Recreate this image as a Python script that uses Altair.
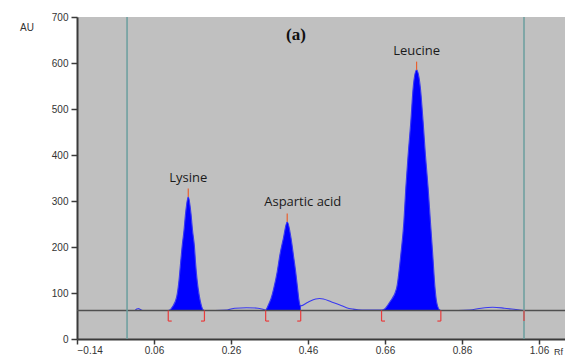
import altair as alt
import pandas as pd

# ---- trace (Rf, AU) ----
trace_rf = [-0.072, -0.04, -0.01, 0.01, 0.015, 0.02, 0.025, 0.03, 0.06, 0.09, 0.097,
            0.101, 0.108, 0.119, 0.125, 0.129, 0.133, 0.138, 0.142, 0.149, 0.156, 0.160,
            0.165, 0.168, 0.172, 0.178, 0.184, 0.188, 0.191,
            0.22, 0.25, 0.27, 0.30, 0.33, 0.345,
            0.350, 0.357, 0.364, 0.371, 0.380, 0.387, 0.396, 0.406, 0.416, 0.422,
            0.428, 0.433, 0.436, 0.439, 0.441,
            0.46, 0.48, 0.49, 0.50, 0.52, 0.543, 0.56, 0.577, 0.60, 0.63, 0.651,
            0.660, 0.673, 0.690, 0.701, 0.709, 0.714, 0.720, 0.727, 0.733, 0.742,
            0.752, 0.759, 0.765, 0.772, 0.778, 0.784, 0.790, 0.794, 0.802, 0.805,
            0.85, 0.88, 0.91, 0.94, 0.97, 1.00, 1.021]
trace_au = [62, 62, 62, 62, 65, 66, 64, 62, 62, 62, 62,
            63, 70, 92, 128, 165, 201, 237, 273, 309, 273, 237,
            201, 165, 128, 92, 70, 63, 62,
            62, 63, 67, 68, 67, 64,
            63, 74, 88, 110, 146, 183, 219, 255, 219, 183,
            146, 110, 88, 74, 72,
            80, 87, 88, 87, 81, 74, 68, 65, 63, 63, 63,
            66, 81, 110, 183, 255, 328, 400, 472, 545, 585,
            545, 472, 400, 328, 255, 183, 110, 81, 63, 62,
            62, 63, 67, 69, 67, 64, 62]

baseline_au = 62

# integrated peaks
peak_names = ["Lysine", "Aspartic acid", "Leucine"]
peak_rf = [0.149, 0.406, 0.742]
peak_au = [309, 255, 585]
peak_start = [0.097, 0.350, 0.651]
peak_end = [0.191, 0.441, 0.805]

# front / start markers
marker_rf = [-0.01, 1.021]

# axis ticks
x_ticks = [-0.14, 0.06, 0.26, 0.46, 0.66, 0.86, 1.06]
y_ticks = [0, 100, 200, 300, 400, 500, 600, 700]

X_DOMAIN = [-0.14, 1.1275]
W, H = 488, 322

trace = pd.DataFrame({"rf": trace_rf, "au": trace_au})

rows = []
for name, s, e in zip(peak_names, peak_start, peak_end):
    seg = trace[(trace.rf >= s) & (trace.rf <= e)].copy()
    seg["peak"] = name
    rows.append(seg)
fill_df = pd.concat(rows)
fill_df["base"] = baseline_au

xs = alt.Scale(domain=X_DOMAIN, nice=False, zero=False)
ys = alt.Scale(domain=[0, 700], nice=False)

X = alt.X("rf:Q", scale=xs,
          axis=alt.Axis(values=x_ticks, format=".2f", title=None, grid=False,
                        domainColor="#3a3a3a", domainWidth=2, tickColor="#3a3a3a",
                        tickSize=5, tickWidth=1.5, labelFont="Liberation Sans",
                        labelFontSize=10, labelColor="#333333", labelPadding=1))
Y = alt.Y("au:Q", scale=ys,
          axis=alt.Axis(values=y_ticks, title=None, grid=False,
                        domainColor="#3a3a3a", domainWidth=2, tickColor="#3a3a3a",
                        tickSize=6, tickWidth=1.5, labelFont="Liberation Sans",
                        labelFontSize=10, labelColor="#333333", labelPadding=3))

area = alt.Chart(fill_df).mark_area(color="#0000ff", opacity=1, interpolate="monotone").encode(
    x=X, y=Y, y2="base:Q", detail="peak:N")

line = alt.Chart(trace).mark_line(color="#3a3af0", strokeWidth=1.1, interpolate="monotone").encode(
    x=alt.X("rf:Q", scale=xs), y=alt.Y("au:Q", scale=ys), order="rf:Q")

base_rule = alt.Chart(pd.DataFrame({"au": [baseline_au]})).mark_rule(
    color="#505050", strokeWidth=1.5).encode(y=alt.Y("au:Q", scale=ys))

marker_df = pd.DataFrame({"rf": marker_rf})
markers = alt.Chart(marker_df).mark_rule(color="#6a9e9e", strokeWidth=1.5).encode(
    x=alt.X("rf:Q", scale=xs))

# red bracket marks at integration limits
bottom_au = 39
stub = 0.009
br_v = pd.DataFrame({"rf": peak_start + peak_end + [marker_rf[1]],
                     "top": baseline_au, "bot": bottom_au})
br_h = pd.DataFrame({"rf": peak_start + peak_end,
                     "rf2": [s + stub for s in peak_start] + [e - stub for e in peak_end],
                     "au": bottom_au})
brackets_v = alt.Chart(br_v).mark_rule(color="#e83c3c", strokeWidth=1.2).encode(
    x=alt.X("rf:Q", scale=xs), y=alt.Y("top:Q", scale=ys), y2="bot:Q")
brackets_h = alt.Chart(br_h).mark_rule(color="#e83c3c", strokeWidth=1.2).encode(
    x=alt.X("rf:Q", scale=xs), x2="rf2:Q", y=alt.Y("au:Q", scale=ys))

peaks = pd.DataFrame({"name": peak_names, "rf": peak_rf, "au": peak_au})
peaks["tip"] = peaks["au"] + 18
peaks["lab"] = peaks["au"] + 42
apex = alt.Chart(peaks).mark_rule(color="#e86030", strokeWidth=1.2).encode(
    x=alt.X("rf:Q", scale=xs), y=alt.Y("au:Q", scale=ys), y2="tip:Q")

lab_common = dict(font="Open Sans", fontSize=13, color="#1a1a1a", baseline="middle")
lab_center = alt.Chart(peaks[peaks.name != "Aspartic acid"]).mark_text(
    align="center", **lab_common).encode(
    x=alt.X("rf:Q", scale=xs), y=alt.Y("lab:Q", scale=ys), text="name:N")
lab_left = alt.Chart(peaks[peaks.name == "Aspartic acid"]).mark_text(
    align="left", dx=-23, **lab_common).encode(
    x=alt.X("rf:Q", scale=xs), y=alt.Y("lab:Q", scale=ys), text="name:N")

txt = pd.DataFrame({"t": ["(a)"]})
title_a = alt.Chart(txt).mark_text(font="Liberation Serif", fontSize=17, fontWeight="bold",
                                   color="#111111", align="center", baseline="middle").encode(
    x=alt.value(219), y=alt.value(18), text="t:N")
au_lab = alt.Chart(pd.DataFrame({"t": ["AU"]})).mark_text(
    font="Liberation Sans", fontSize=10, color="#333333", align="left",
    baseline="middle").encode(x=alt.value(-57), y=alt.value(11), text="t:N")
rf_lab = alt.Chart(pd.DataFrame({"t": ["Rf"]})).mark_text(
    font="Liberation Sans", fontSize=9, color="#333333", align="right",
    baseline="middle").encode(x=alt.value(W - 2), y=alt.value(H + 13), text="t:N")

chart = alt.layer(
    area, line, base_rule, markers, brackets_v, brackets_h, apex,
    lab_center, lab_left, title_a, au_lab, rf_lab
).properties(
    width=W, height=H,
    autosize=alt.AutoSizeParams(type="none"),
    padding={"left": 69, "top": 9, "right": 0, "bottom": 20},
).configure_view(fill="#c0c0c0", stroke=None)

chart.save("out.html", embed_options={"renderer": "svg", "actions": False})
